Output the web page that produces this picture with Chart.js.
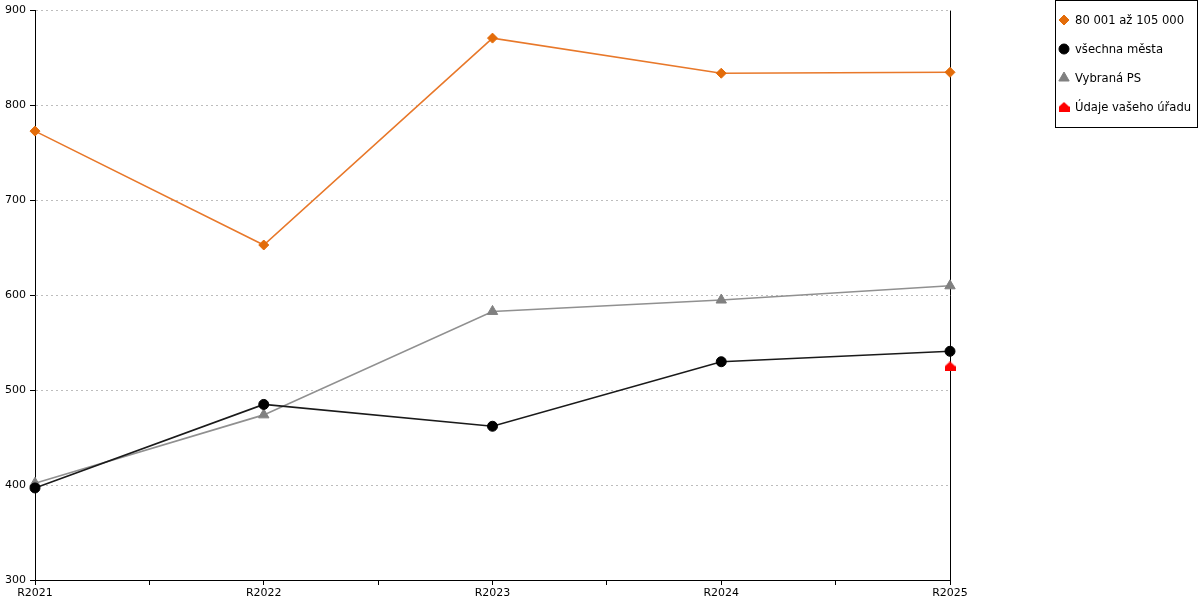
<!DOCTYPE html>
<html>
<head>
<meta charset="utf-8">
<script src="https://cdn.jsdelivr.net/npm/chart.js@4"></script>
<style>
    html, body { margin: 0; padding: 0; background: #fff; }
    #wrap { width: 1200px; height: 600px; }
</style>
</head>
<body>
<div id="wrap"><canvas id="myChart" width="1200" height="600"></canvas></div>
<script>
const categories = ['R2021', 'R2022', 'R2023', 'R2024', 'R2025'];
const yTicks = [300, 400, 500, 600, 700, 800, 900];

const sizeGroup = [773, 653, 871, 834, 835];   // 80 001 až 105 000
const allCities = [397, 485, 462, 530, 541];   // všechna města
const chosenPs = [402, 474, 583, 595, 610];    // Vybraná PS
const yourOffice = [null, null, null, null, 525]; // Údaje vašeho úřadu

// little red "house" marker
function houseMarker() {
    const c = document.createElement('canvas');
    c.width = 11;
    c.height = 10;
    const g = c.getContext('2d');
    g.fillStyle = '#ff0000';
    g.beginPath();
    g.moveTo(0, 10);
    g.lineTo(0, 5);
    g.lineTo(5.5, 0);
    g.lineTo(11, 5);
    g.lineTo(11, 10);
    g.closePath();
    g.fill();
    return c;
}
const house = houseMarker();

function toPoints(values) {
    return values.map((v, i) => ({ x: i, y: v }));
}

const seriesStyle = [
    { label: '80 001 až 105 000', data: sizeGroup, line: '#e8782a', fill: '#e36c0a', style: 'rectRot', r: 5 },
    { label: 'všechna města', data: allCities, line: '#1a1a1a', fill: '#000000', style: 'circle', r: 5 },
    { label: 'Vybraná PS', data: chosenPs, line: '#909090', fill: '#808080', style: 'triangle', r: 6 },
    { label: 'Údaje vašeho úřadu', data: yourOffice, line: '#ff0000', fill: '#ff0000', style: house, r: 5 }
];

// right border line at last category + boxed legend
const extras = {
    id: 'extras',
    beforeDatasetsDraw(chart) {
        const ctx = chart.ctx;
        const xs = chart.scales.x;
        const area = chart.chartArea;
        const xr = Math.round(xs.getPixelForValue(categories.length - 1)) + 0.5;
        ctx.save();
        ctx.strokeStyle = '#000';
        ctx.lineWidth = 1;
        ctx.beginPath();
        ctx.moveTo(xr, area.top);
        ctx.lineTo(xr, area.bottom);
        ctx.stroke();
        ctx.restore();
    },
    afterDraw(chart) {
        const ctx = chart.ctx;
        ctx.save();
        ctx.strokeStyle = '#000';
        ctx.lineWidth = 1;
        ctx.strokeRect(1055.5, 0.5, 142, 127);
        ctx.font = '11.6px "DejaVu Sans"';
        ctx.textBaseline = 'middle';
        ctx.textAlign = 'left';
        seriesStyle.forEach((s, i) => {
            const y = 20 + i * 29;
            ctx.fillStyle = s.fill;
            ctx.strokeStyle = s.fill;
            Chart.helpers.drawPoint(ctx, { pointStyle: s.style, radius: s.r, borderWidth: 1, rotation: 0 }, 1064, y);
            ctx.fillStyle = '#000';
            ctx.fillText(s.label, 1075, y + 1);
        });
        ctx.restore();
    }
};

const ctx = document.getElementById('myChart').getContext('2d');
const myChart = new Chart(ctx, {
    type: 'line',
    data: {
        datasets: seriesStyle.map(s => ({
            label: s.label,
            data: toPoints(s.data),
            borderColor: s.line,
            backgroundColor: s.fill,
            pointBackgroundColor: s.fill,
            pointBorderColor: s.fill,
            pointStyle: s.style,
            pointRadius: s.r,
            pointBorderWidth: 1,
            borderWidth: 1.6,
            tension: 0,
            clip: false,
            spanGaps: false
        }))
    },
    plugins: [extras],
    options: {
        responsive: false,
        animation: false,
        layout: { padding: { top: 10, right: 250, left: 0, bottom: 0 } },
        plugins: {
            legend: { display: false },
            tooltip: { enabled: false }
        },
        scales: {
            x: {
                type: 'linear',
                min: 0,
                max: categories.length - 1,
                afterFit: scale => { scale.height = 20; },
                afterBuildTicks: scale => {
                    const t = [];
                    for (let i = 0; i <= (categories.length - 1) * 2; i++) t.push({ value: i / 2 });
                    scale.ticks = t;
                },
                ticks: {
                    autoSkip: false,
                    maxRotation: 0,
                    padding: 2,
                    color: '#000',
                    font: { family: 'DejaVu Sans', size: 11 },
                    callback: v => Number.isInteger(v) ? categories[v] : ''
                },
                grid: {
                    drawOnChartArea: false,
                    tickLength: 5,
                    color: '#000'
                },
                border: { color: '#000', width: 1 }
            },
            y: {
                min: yTicks[0],
                max: yTicks[yTicks.length - 1],
                afterFit: scale => { scale.width = 35; },
                afterBuildTicks: scale => {
                    scale.ticks = yTicks.map(v => ({ value: v }));
                },
                ticks: {
                    padding: 4,
                    color: '#000',
                    font: { family: 'DejaVu Sans', size: 11 }
                },
                grid: {
                    color: '#bdbdbd',
                    tickColor: '#000',
                    tickLength: 5
                },
                border: { color: '#000', width: 1, dash: [2, 3] }
            }
        }
    }
});
</script>
</body>
</html>
